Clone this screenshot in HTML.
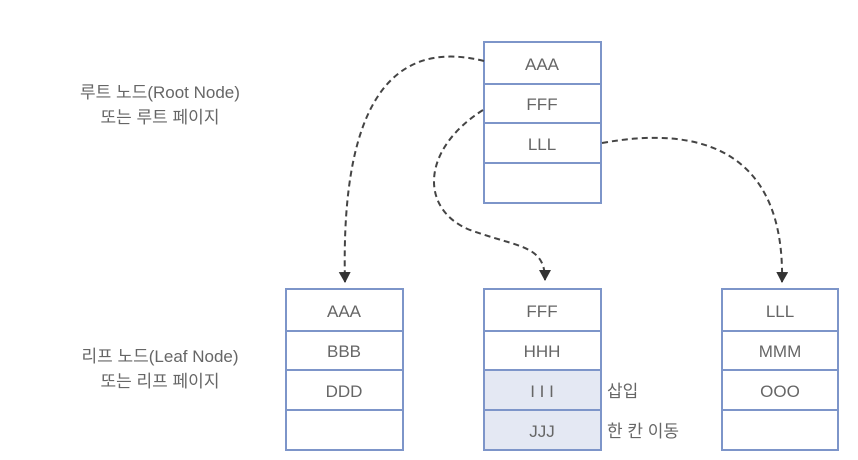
<!DOCTYPE html>
<html><head><meta charset="utf-8"><style>
body{margin:0;width:858px;height:460px;background:#fff;overflow:hidden;font-family:"Liberation Sans","Noto Sans CJK KR",sans-serif;}
svg{position:absolute;left:0;top:0}
text{font-family:"Liberation Sans","Noto Sans CJK KR",sans-serif;fill:#666;font-size:17px}
</style></head><body>
<svg width="858" height="460" viewBox="0 0 858 460">
<defs><marker id="a" markerWidth="12" markerHeight="12" refX="10" refY="6" orient="auto" markerUnits="userSpaceOnUse"><path d="M0,0 L11,6 L0,12 Z" fill="#333"/></marker></defs>
<rect x="484" y="370" width="117" height="80" fill="#e4e8f3"/>
<g fill="none" stroke="#7d95c9" stroke-width="2">
<rect x="484" y="42" width="117" height="161"/>
<line x1="484" y1="84" x2="601" y2="84"/><line x1="484" y1="123" x2="601" y2="123"/><line x1="484" y1="163" x2="601" y2="163"/>
<rect x="286" y="289" width="117" height="161"/>
<line x1="286" y1="331" x2="403" y2="331"/><line x1="286" y1="370" x2="403" y2="370"/><line x1="286" y1="410" x2="403" y2="410"/>
<rect x="484" y="289" width="117" height="161"/>
<line x1="484" y1="331" x2="601" y2="331"/><line x1="484" y1="370" x2="601" y2="370"/><line x1="484" y1="410" x2="601" y2="410"/>
<rect x="722" y="289" width="116" height="161"/>
<line x1="722" y1="331" x2="838" y2="331"/><line x1="722" y1="370" x2="838" y2="370"/><line x1="722" y1="410" x2="838" y2="410"/>
</g>
<g fill="none" stroke="#444" stroke-width="2" stroke-dasharray="6,4">
<path d="M484,61 C400,40 340,90 345,282" marker-end="url(#a)"/>
<path d="M483,110 C420,150 420,210 470,230 C520,248 545,245 545,280" marker-end="url(#a)"/>
<path d="M602,143 C700,125 785,150 782,282" marker-end="url(#a)"/>
</g>
<g text-anchor="middle">
<text x="542" y="70">AAA</text><text x="542" y="110">FFF</text><text x="542" y="150">LLL</text>
<text x="344" y="317">AAA</text><text x="344" y="357">BBB</text><text x="344" y="397">DDD</text>
<text x="542" y="317">FFF</text><text x="542" y="357">HHH</text><text x="542" y="397">I I I</text><text x="542" y="437">JJJ</text>
<text x="780" y="317">LLL</text><text x="780" y="357">MMM</text><text x="780" y="397">OOO</text>
<text x="160" y="98">루트 노드(Root Node)</text><text x="160" y="123">또는 루트 페이지</text>
<text x="160" y="362">리프 노드(Leaf Node)</text><text x="160" y="387">또는 리프 페이지</text>
</g>
<text x="607" y="397">삽입</text><text x="607" y="437">한 칸 이동</text>
</svg>
</body></html>
